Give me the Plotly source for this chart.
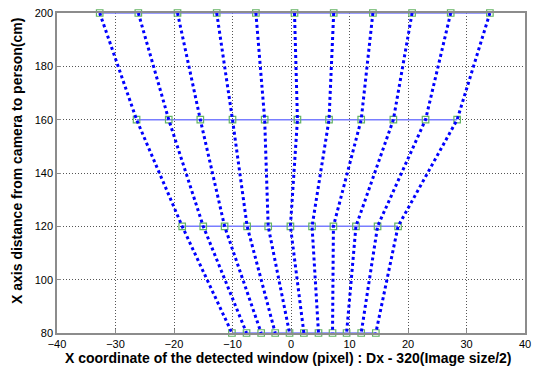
import plotly.graph_objects as go

# distance levels (cm)
levels = [200, 160, 120, 80]

# detected window x coordinate at each level (pixel), 11 tracked positions
x_200 = [-32.7, -26.1, -19.4, -12.7, -6.0, 0.6, 7.3, 14.0, 20.7, 27.3, 34.0]
x_160 = [-26.4, -20.9, -15.5, -10.0, -4.5, 1.1, 6.5, 12.0, 17.5, 23.0, 28.4]
x_120 = [-18.6, -15.0, -11.35, -7.5, -3.9, -0.1, 3.6, 7.25, 11.1, 14.8, 18.3]
x_80 = [-10.1, -7.6, -5.1, -2.7, -0.25, 2.2, 4.7, 7.1, 9.5, 12.0, 14.5]

rows = [x_200, x_160, x_120, x_80]

x_ticks = [-40, -30, -20, -10, 0, 10, 20, 30, 40]
y_ticks = [80, 100, 120, 140, 160, 180, 200]

x_title = "X coordinate of the detected window (pixel) : Dx - 320(Image size/2)"
y_title = "X axis distance from camera to person(cm)"

fig = go.Figure()

# horizontal lines with square markers at each level
for lvl, xs in zip(levels, rows):
    fig.add_trace(go.Scatter(
        x=xs, y=[lvl] * len(xs), mode="lines+markers",
        line=dict(color="rgb(120,125,255)", width=1.5),
        marker=dict(symbol="square-open", size=6.5, color="rgb(100,180,100)",
                    line=dict(width=1.2)),
        showlegend=False, hoverinfo="skip", cliponaxis=False))

# dotted tracks connecting each position across levels
for i in range(len(x_200)):
    fig.add_trace(go.Scatter(
        x=[r[i] for r in rows], y=levels, mode="lines",
        line=dict(color="#0000ff", width=3, dash="3px,3px"),
        showlegend=False, hoverinfo="skip"))

axis_common = dict(
    showline=True, linecolor="#8c8c8c", linewidth=1.5, mirror=True,
    showgrid=True, gridcolor="#555555", griddash="1px,2px", gridwidth=1,
    zeroline=False, ticks="inside", ticklen=4, tickcolor="#8c8c8c",
    automargin=False,
    tickfont=dict(family="Liberation Sans, Arial", size=11, color="black"),
)

title_font = dict(family="Liberation Sans, Arial", size=14, color="black")

fig.update_layout(
    width=536, height=369,
    margin=dict(l=57, r=11, t=13, b=36),
    paper_bgcolor="white", plot_bgcolor="white",
    xaxis=dict(range=[-40, 40], tickvals=x_ticks, **axis_common),
    yaxis=dict(range=[80, 200], tickvals=y_ticks, **axis_common),
    annotations=[
        dict(text="<b>" + x_title + "</b>", xref="paper", yref="paper",
             x=0.4957, y=-0.079, xanchor="center", yanchor="middle",
             showarrow=False, font=title_font),
        dict(text="<b>" + y_title + "</b>", xref="paper", yref="paper",
             x=-0.0844, y=0.536, xanchor="center", yanchor="middle",
             textangle=-90, showarrow=False, font=title_font),
    ],
)

fig.write_html("out.html")
